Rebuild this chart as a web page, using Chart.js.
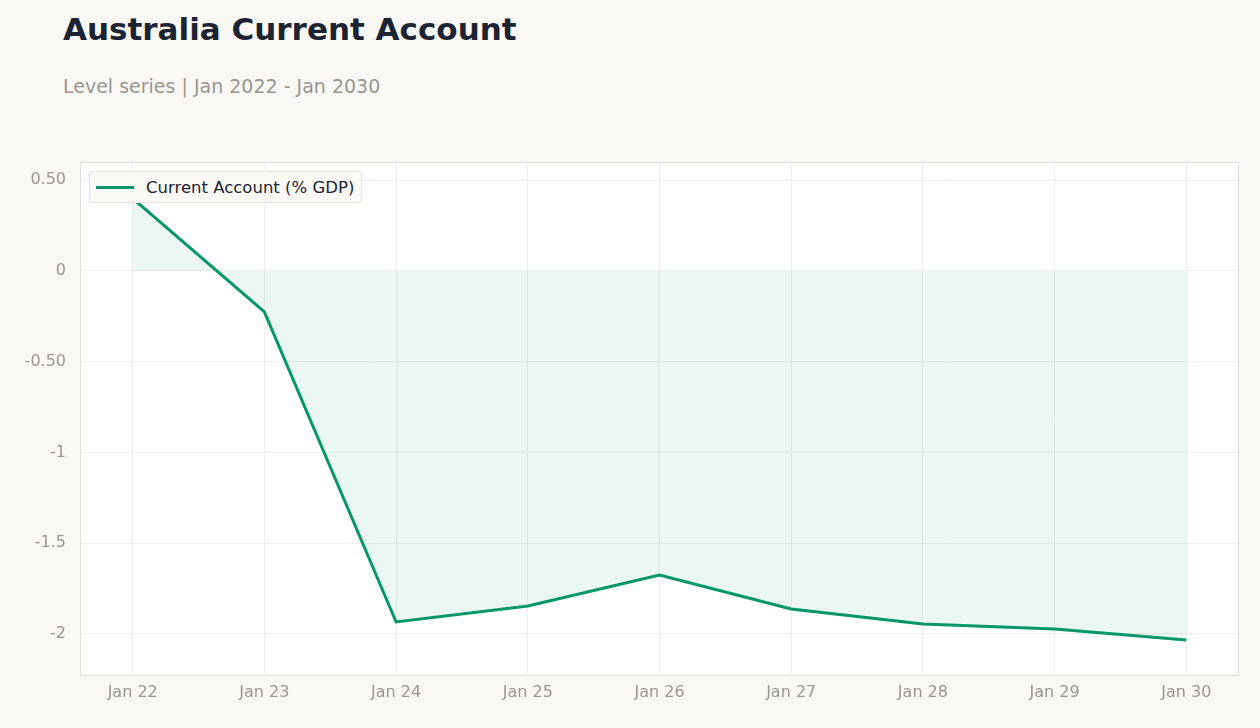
<!DOCTYPE html>
<html>
<head>
<meta charset="utf-8">
<script src="https://cdn.jsdelivr.net/npm/chart.js"></script>
<style>
  body { margin: 0; background: #f9f8f5; font-family: "DejaVu Sans", sans-serif; }
  #wrap { position: relative; width: 1260px; height: 728px; }
  h1 { position: absolute; left: 63px; top: 11px; margin: 0; font-size: 31px; font-weight: bold; color: #1c2333; }
  .sub { position: absolute; left: 63px; top: 75px; font-size: 19px; color: #999590; }
  canvas { position: absolute; left: 0; top: 0; }
  .legend { position: absolute; left: 89px; top: 171px; height: 30px; padding: 0 7px 0 6px; background: #faf9f6;
    border: 1px solid #e6e3dc; border-radius: 3px; display: flex; align-items: center; font-size: 16.5px; color: #1c2333; }
  .legend span.ln { display: inline-block; width: 38px; height: 3px; background: #059669; margin-right: 12px; }
</style>
</head>
<body>
<div id="wrap">
  <h1>Australia Current Account</h1>
  <div class="sub">Level series | Jan 2022 - Jan 2030</div>
  <canvas id="myChart" width="1260" height="728"></canvas>
  <div class="legend"><span class="ln"></span>Current Account (% GDP)</div>
</div>
<script>
var categories = ['Jan 22', 'Jan 23', 'Jan 24', 'Jan 25', 'Jan 26', 'Jan 27', 'Jan 28', 'Jan 29', 'Jan 30'];
var currentAccount = [0.40, -0.226, -1.934, -1.846, -1.675, -1.862, -1.945, -1.972, -2.033];
var tickValues = [0.5, 0, -0.5, -1, -1.5, -2];
var tickLabels = ['0.50', '0', '-0.50', '-1', '-1.5', '-2'];

var areaPlugin = {
  id: 'area',
  beforeDraw: function (chart) {
    var a = chart.chartArea, c = chart.ctx;
    c.save();
    c.fillStyle = '#ffffff';
    c.fillRect(a.left, a.top, a.right - a.left, a.bottom - a.top);
    c.restore();
  },
  afterDraw: function (chart) {
    var a = chart.chartArea, c = chart.ctx;
    c.save();
    c.strokeStyle = '#e2dfd8';
    c.lineWidth = 1;
    c.strokeRect(a.left + 0.5, a.top + 0.5, a.right - a.left - 1, a.bottom - a.top);
    c.restore();
  }
};

new Chart(document.getElementById('myChart'), {
  type: 'line',
  data: {
    datasets: [{
      label: 'Current Account (% GDP)',
      data: currentAccount.map(function (v, i) { return { x: i, y: v }; }),
      borderColor: '#059669',
      backgroundColor: 'rgba(5,150,105,0.08)',
      borderWidth: 3,
      fill: 'origin',
      pointRadius: 0,
      tension: 0
    }]
  },
  plugins: [areaPlugin],
  options: {
    responsive: false,
    animation: false,
    layout: { padding: { top: 162, right: 21, left: 0, bottom: 0 } },
    plugins: { legend: { display: false }, tooltip: { enabled: false } },
    scales: {
      x: {
        type: 'linear', min: -0.4, max: 8.4,
        afterBuildTicks: function (s) { s.ticks = categories.map(function (c, i) { return { value: i }; }); },
        afterFit: function (s) { s.height = 53; },
        ticks: { callback: function (v) { return categories[v]; }, color: '#9a9690', font: { size: 16, family: 'DejaVu Sans' }, padding: 8 },
        grid: { color: '#f0efeb', drawTicks: false },
        border: { display: false }
      },
      y: {
        min: -2.226, max: 0.6,
        afterBuildTicks: function (s) { s.ticks = tickValues.map(function (v) { return { value: v }; }); },
        afterFit: function (s) { s.width = 80; },
        ticks: { callback: function (v) { return tickLabels[tickValues.indexOf(v)]; }, color: '#9a9690', font: { size: 16, family: 'DejaVu Sans' }, padding: 14 },
        grid: { color: '#f0efeb', drawTicks: false },
        border: { display: false }
      }
    }
  }
});
</script>
</body>
</html>
